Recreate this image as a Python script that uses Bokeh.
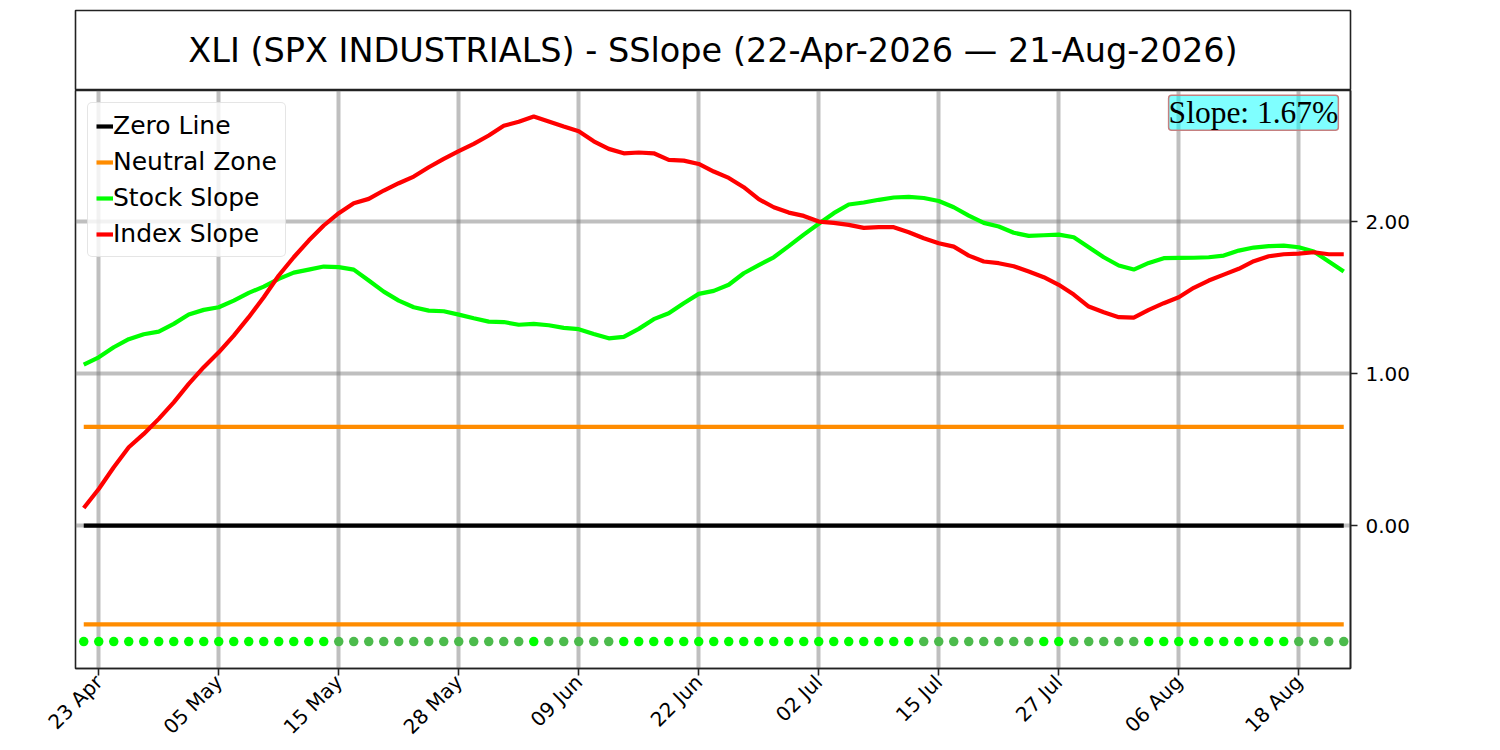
import math
import pandas as pd
from bokeh.plotting import figure
from bokeh.layouts import column
from bokeh.models import (Range1d, FixedTicker, NumeralTickFormatter, Legend,
                          LegendItem, Label)
from bokeh.core.properties import value
from bokeh.embed import file_html
from bokeh.resources import INLINE

# ---------------- data ----------------
TITLE = "XLI (SPX INDUSTRIALS) - SSlope (22-Apr-2026 \u2014 21-Aug-2026)"
START, END = "2026-04-22", "2026-08-21"
HOLIDAYS = ["2026-05-25", "2026-06-19", "2026-07-03"]

tick_labels = ["23 Apr", "05 May", "15 May", "28 May", "09 Jun", "22 Jun",
               "02 Jul", "15 Jul", "27 Jul", "06 Aug", "18 Aug"]

stock_slope = [
    1.059, 1.107, 1.173, 1.226, 1.259, 1.276, 1.327, 1.388, 1.419, 1.436,
    1.480, 1.531, 1.572, 1.623, 1.664, 1.684, 1.704, 1.700, 1.684, 1.612,
    1.539, 1.480, 1.436, 1.414, 1.410, 1.388, 1.364, 1.342, 1.339, 1.321,
    1.327, 1.318, 1.301, 1.292, 1.261, 1.232, 1.241, 1.294, 1.358, 1.397,
    1.463, 1.524, 1.544, 1.584, 1.660, 1.713, 1.765, 1.838, 1.914, 1.985,
    2.055, 2.112, 2.125, 2.143, 2.158, 2.162, 2.155, 2.135, 2.094, 2.039,
    1.991, 1.967, 1.926, 1.906, 1.910, 1.914, 1.897, 1.831, 1.765, 1.711,
    1.684, 1.728, 1.759, 1.761, 1.762, 1.765, 1.776, 1.809, 1.829, 1.838,
    1.842, 1.831, 1.803, 1.737, 1.671,
]

index_slope = [
    0.116, 0.241, 0.384, 0.515, 0.603, 0.702, 0.811, 0.932, 1.042, 1.140,
    1.250, 1.371, 1.502, 1.645, 1.765, 1.875, 1.974, 2.055, 2.121, 2.149,
    2.204, 2.252, 2.296, 2.357, 2.412, 2.463, 2.511, 2.566, 2.630, 2.657,
    2.691, 2.658, 2.625, 2.594, 2.528, 2.478, 2.449, 2.454, 2.449, 2.406,
    2.401, 2.379, 2.329, 2.287, 2.226, 2.147, 2.094, 2.059, 2.037, 2.000,
    1.991, 1.978, 1.958, 1.963, 1.963, 1.930, 1.890, 1.857, 1.835, 1.776,
    1.737, 1.726, 1.706, 1.671, 1.634, 1.584, 1.520, 1.441, 1.403, 1.371,
    1.368, 1.419, 1.463, 1.502, 1.564, 1.612, 1.651, 1.689, 1.739, 1.772,
    1.785, 1.789, 1.798, 1.785, 1.785,
]

# 1 = stock slope rising (bright dot), 0 = falling (dim dot)
stock_rising = [
    1, 1, 1, 1, 1, 1, 1, 1, 1, 1, 1, 1, 1, 1, 1, 1, 1, 0, 0, 0,
    0, 0, 0, 0, 0, 0, 0, 0, 0, 0, 1, 0, 0, 0, 0, 0, 1, 1, 1, 1,
    1, 1, 1, 1, 1, 1, 1, 1, 1, 1, 1, 1, 1, 1, 1, 1, 0, 0, 0, 0,
    0, 0, 0, 0, 1, 1, 0, 0, 0, 0, 0, 1, 1, 1, 1, 1, 1, 1, 1, 1,
    1, 0, 0, 0, 0,
]

NEUTRAL = 0.65
DOT_LEVEL = -0.763
Y_TICKS = [0, 1, 2]

# ---------------- derived ----------------
dates = [d for d in pd.bdate_range(START, END)
         if d.strftime("%Y-%m-%d") not in HOLIDAYS]
date_labels = [d.strftime("%d %b") for d in dates]
idx = list(range(len(dates)))
tick_idx = [date_labels.index(t) for t in tick_labels]

FONT = "DejaVu Sans"
AX_COL = "#222222"
W = 1440
LEFT, RIGHT = 75, 90

# ---------------- title box ----------------
tfig = figure(width=W, height=90, x_range=Range1d(0, 1), y_range=Range1d(0, 1),
              toolbar_location=None, output_backend="svg",
              x_axis_location=None, y_axis_location=None,
              min_border_left=LEFT, min_border_right=RIGHT,
              min_border_top=10, min_border_bottom=0)
tfig.grid.visible = False
tfig.outline_line_color = AX_COL
tfig.outline_line_width = 1.6
tfig.outline_line_alpha = 1.0
tfig.text(x=[0.5], y=[0.5], text=[TITLE], text_align="center",
          text_baseline="middle", text_font=value(FONT),
          text_font_size="33.5px", text_color="black")

# ---------------- main plot ----------------
p = figure(width=W, height=660,
           x_range=Range1d(-0.55, 84.45), y_range=Range1d(-0.94, 2.862),
           y_axis_location="right", toolbar_location=None, output_backend="svg",
           min_border_left=LEFT, min_border_right=RIGHT,
           min_border_top=0, min_border_bottom=82)
p.outline_line_color = AX_COL
p.outline_line_width = 1.6
p.outline_line_alpha = 1.0

p.xaxis.ticker = FixedTicker(ticks=tick_idx)
p.xaxis.major_label_overrides = {i: t for i, t in zip(tick_idx, tick_labels)}
p.xaxis.major_label_orientation = math.pi / 4
p.yaxis.ticker = FixedTicker(ticks=Y_TICKS)
p.yaxis.formatter = NumeralTickFormatter(format="0.00")
for ax in (p.xaxis, p.yaxis):
    ax.major_label_text_font = FONT
    ax.major_label_text_font_size = "20px"
    ax.major_label_text_color = "black"
    ax.axis_line_color = AX_COL
    ax.axis_line_width = 1.6
    ax.major_tick_line_color = AX_COL
    ax.major_tick_line_width = 1.6
    ax.major_tick_out = 7
    ax.major_tick_in = 0
    ax.minor_tick_line_color = None
p.yaxis.major_label_standoff = 8
p.xaxis.major_label_standoff = 3

p.xgrid.ticker = FixedTicker(ticks=tick_idx)
p.ygrid.ticker = FixedTicker(ticks=Y_TICKS)
p.grid.grid_line_color = "gray"
p.grid.grid_line_alpha = 0.5
p.grid.grid_line_width = 4

x_ends = [idx[0], idx[-1]]
r_zero = p.line(x_ends, [0, 0], line_color="black", line_width=4.2)
r_nz = p.line(x_ends, [NEUTRAL, NEUTRAL], line_color="#FF8C00", line_width=4.2)
p.line(x_ends, [-NEUTRAL, -NEUTRAL], line_color="#FF8C00", line_width=4.2)
r_stock = p.line(idx, stock_slope, line_color="#00FF00", line_width=4.2)
r_index = p.line(idx, index_slope, line_color="#FF0000", line_width=4.2)

dot_colors = ["#00FF00" if r else "#4CBB4C" for r in stock_rising]
p.scatter(idx, [DOT_LEVEL] * len(idx), size=9.5, fill_color=dot_colors,
          line_color=None)

legend = Legend(items=[
    LegendItem(label="Zero Line", renderers=[r_zero]),
    LegendItem(label="Neutral Zone", renderers=[r_nz]),
    LegendItem(label="Stock Slope", renderers=[r_stock]),
    LegendItem(label="Index Slope", renderers=[r_index]),
], location="top_left", margin=12, padding=8, spacing=7,
    glyph_width=17, glyph_height=20, label_standoff=0,
    label_text_font=FONT, label_text_font_size="25px", label_height=20,
    label_text_color="black",
    border_line_color="#cccccc", border_line_width=1.5,
    background_fill_color="white", background_fill_alpha=0.8)
if "border_radius" in Legend.properties():
    legend.border_radius = 5
p.add_layout(legend)

slope_label = Label(x=83.64, y=2.83, text=f"Slope: {stock_slope[-1]:.2f}%",
                    text_align="right", text_baseline="top",
                    text_font="Liberation Serif", text_font_size="31.5px",
                    text_color="black", padding=0, border_radius=3,
                    background_fill_color="cyan", background_fill_alpha=0.5,
                    border_line_color="#C58080", border_line_width=1.5)
p.add_layout(slope_label)

layout = column(tfig, p, spacing=0)
open("out.html", "w").write(file_html(layout, INLINE))
